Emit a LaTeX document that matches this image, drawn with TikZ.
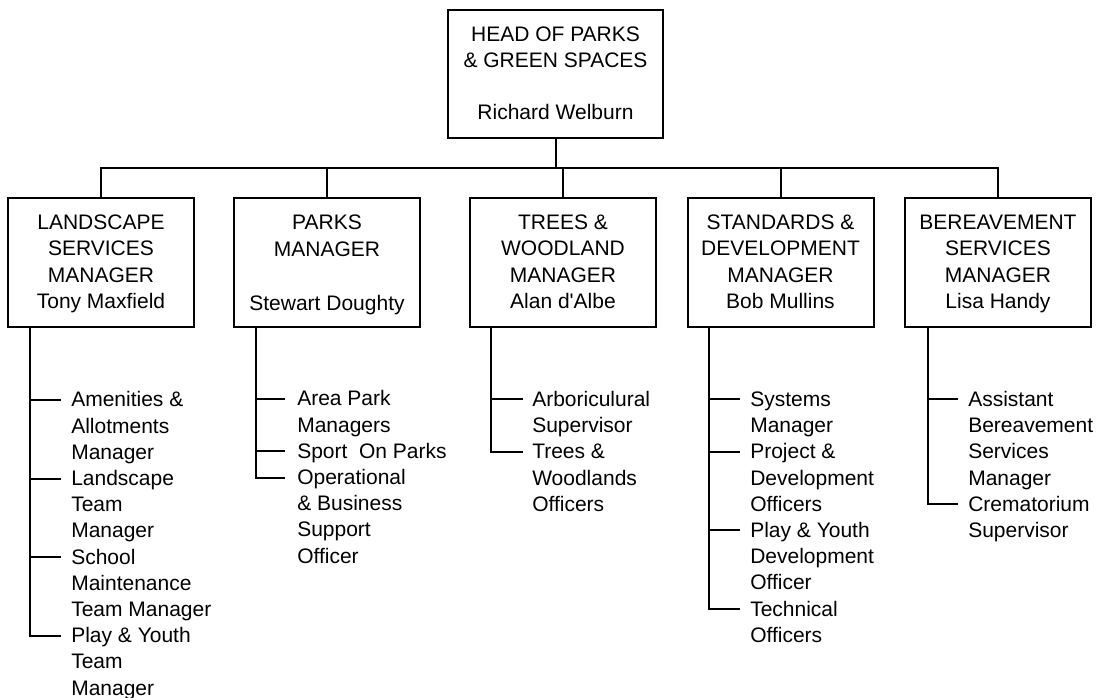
\documentclass[tikz,border=0pt]{standalone}
\usepackage{fontspec}
\setmainfont{Liberation Sans}
\newcommand{\ctab}[1]{\begin{tabular}[t]{@{}c@{}}#1\end{tabular}}
\newcommand{\ltab}[1]{\begin{tabular}[t]{@{}l@{}}#1\end{tabular}}
\begin{document}
\begin{tikzpicture}[x=0.75pt,y=-0.75pt,
  txt/.style={font=\fontsize{15.75pt}{19.65pt}\selectfont},
  wire/.style={line width=1.5pt,line join=miter},
  orgbox/.style={txt,draw,line width=1.5pt,minimum width=139.5pt,minimum height=96.75pt,inner sep=0pt},
  sub/.style={txt,anchor=base west,inner sep=0pt}]
\useasboundingbox (0,0) rectangle (1101,698);

% boxes
\node[orgbox,minimum width=161.25pt,minimum height=96pt] (head) at (555.5,74) {\ctab{\rule{0pt}{16.2pt}HEAD OF PARKS\\\& GREEN SPACES\\[19.3pt]Richard Welburn}};
\node[orgbox] (ls) at (101,262.5) {\ctab{\rule{0pt}{15.7pt}LANDSCAPE\\SERVICES\\MANAGER\\Tony Maxfield}};
\node[orgbox] (pk) at (327,262.5) {\ctab{\rule{0pt}{17.2pt}PARKS\\MANAGER\\[21pt]Stewart Doughty}};
\node[orgbox] (tr) at (563,262.5) {\ctab{\rule{0pt}{15.7pt}TREES \&\\WOODLAND\\MANAGER\\Alan d\textquotesingle Albe}};
\node[orgbox] (sd) at (780.5,262.5) {\ctab{\rule{0pt}{15.7pt}STANDARDS \&\\DEVELOPMENT\\MANAGER\\Bob Mullins}};
\node[orgbox] (br) at (998,262.5) {\ctab{\rule{0pt}{15.7pt}BEREAVEMENT\\SERVICES\\MANAGER\\Lisa Handy}};

% top connectors
\coordinate (bus) at (0,168);
\draw[wire] (head.south) -- (head.south |- bus);
\draw[wire] (ls.north) -- (ls.north |- bus) -- (br.north |- bus) -- (br.north);
\foreach \n in {pk,tr,sd} \draw[wire] (\n.north) -- (\n.north |- bus);

% Landscape services
\node[sub] (l1) at (71,407) {\ltab{Amenities \&\\Allotments\\Manager}};
\node[sub] (l2) at (71,485.6) {\ltab{Landscape\\Team\\Manager}};
\node[sub] (l3) at (71,564.2) {\ltab{School\\Maintenance\\Team Manager}};
\node[sub] (l4) at (71,642.8) {\ltab{Play \& Youth\\Team\\Manager}};
\draw[wire] (30,327) |- (61,635.8);
\draw[wire] (30,400) -- (61,400);
\draw[wire] (30,478.6) -- (61,478.6);
\draw[wire] (30,557.2) -- (61,557.2);

% Parks
\node[sub] (p1) at (297,406) {\ltab{Area Park\\Managers}};
\node[sub] (p2) at (297,458.4) {\ltab{Sport\ \ On Parks}};
\node[sub] (p3) at (297,484.6) {\ltab{Operational\\\& Business\\Support\\Officer}};
\draw[wire] (256,327) |- (285,477.6);
\draw[wire] (256,399) -- (285,399);
\draw[wire] (256,451.4) -- (285,451.4);

% Trees
\node[sub] (t1) at (532,406.5) {\ltab{Arboriculural\\Supervisor}};
\node[sub] (t2) at (532,458.9) {\ltab{Trees \&\\Woodlands\\Officers}};
\draw[wire] (491,327) |- (523,451.9);
\draw[wire] (491,399.5) -- (523,399.5);

% Standards
\node[sub] (s1) at (750,406.5) {\ltab{Systems\\Manager}};
\node[sub] (s2) at (750,458.9) {\ltab{Project \&\\Development\\Officers}};
\node[sub] (s3) at (750,537.5) {\ltab{Play \& Youth\\Development\\Officer}};
\node[sub] (s4) at (750,616.1) {\ltab{Technical\\Officers}};
\draw[wire] (709,327) |- (740,609.1);
\draw[wire] (709,399.5) -- (740,399.5);
\draw[wire] (709,451.9) -- (740,451.9);
\draw[wire] (709,530.5) -- (740,530.5);

% Bereavement
\node[sub] (b1) at (968,406.5) {\ltab{Assistant\\Bereavement\\Services\\Manager}};
\node[sub] (b2) at (968,511.3) {\ltab{Crematorium\\Supervisor}};
\draw[wire] (928,327) |- (958,504.3);
\draw[wire] (928,399.5) -- (958,399.5);
\end{tikzpicture}
\end{document}
